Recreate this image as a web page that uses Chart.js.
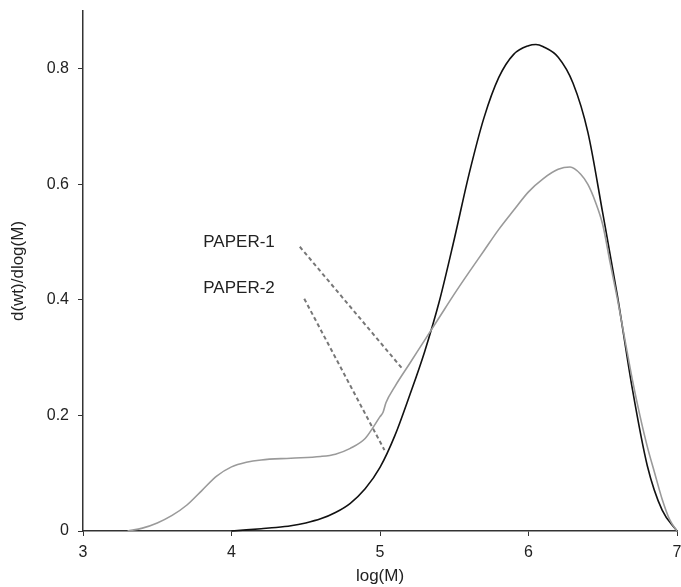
<!DOCTYPE html>
<html>
<head>
<meta charset="utf-8">
<script src="https://cdn.jsdelivr.net/npm/chart.js@4"></script>
<style>
  body { margin: 0; background: #fff; }
  #wrap { width: 681px; height: 587px; position: relative; }
</style>
</head>
<body>
<div id="wrap"><canvas id="mwdChart"></canvas></div>
<script>
// --- Data ---

// PAPER-1 (grey curve)
const paper1X = [3.3, 3.4, 3.5, 3.6, 3.7, 3.8, 3.9, 4.0, 4.1, 4.2, 4.4, 4.6, 4.7, 4.8, 4.9, 4.95, 5.0, 5.02, 5.04,
  5.1, 5.2, 5.3, 5.4, 5.5, 5.6, 5.7, 5.8, 5.9, 6.0, 6.1, 6.2, 6.28, 6.35, 6.4, 6.45, 6.5, 6.55, 6.6, 6.65,
  6.7, 6.75, 6.8, 6.85, 6.9, 6.95, 7.0];
const paper1Y = [0, 0.005, 0.014, 0.027, 0.045, 0.07, 0.095, 0.111, 0.119, 0.123, 0.126, 0.129, 0.133, 0.143, 0.16, 0.178, 0.198, 0.205, 0.222,
  0.25, 0.29, 0.33, 0.37, 0.41, 0.448, 0.485, 0.522, 0.555, 0.587, 0.61, 0.626, 0.63, 0.618, 0.6, 0.57, 0.53, 0.464, 0.4, 0.33,
  0.261, 0.2, 0.146, 0.1, 0.055, 0.02, 0];

// PAPER-2 (black curve)
const paper2X = [4.0, 4.1, 4.2, 4.3, 4.4, 4.5, 4.6, 4.7, 4.8, 4.9, 5.0, 5.1, 5.2, 5.3, 5.4, 5.5, 5.6, 5.7, 5.8,
  5.9, 6.0, 6.05, 6.1, 6.2, 6.3, 6.4, 6.5, 6.6, 6.7, 6.8, 6.9, 7.0];
const paper2Y = [0, 0.002, 0.004, 0.006, 0.009, 0.014, 0.021, 0.032, 0.048, 0.073, 0.11, 0.165, 0.235, 0.31, 0.398, 0.505, 0.618, 0.715, 0.785,
  0.825, 0.84, 0.842, 0.838, 0.82, 0.775, 0.69, 0.55, 0.405, 0.245, 0.113, 0.036, 0];

// Leader lines from the labels to the curves
const leader1X = [4.46, 5.15];
const leader1Y = [0.492, 0.281];
const leader2X = [4.49, 5.03];
const leader2Y = [0.402, 0.14];

const labelNames = ['PAPER-1', 'PAPER-2'];
const labelX = [3.81, 3.81];
const labelY = [0.5, 0.42];

const xTicks = [3, 4, 5, 6, 7];
const yTicks = [0, 0.2, 0.4, 0.6, 0.8];

// --- Helpers ---

const zip = (xs, ys) => xs.map((x, i) => ({ x, y: ys[i] }));
const FONT = "'Liberation Sans', Arial, sans-serif";

const curve = (label, xs, ys, color) => ({
  label,
  data: zip(xs, ys),
  borderColor: color,
  borderWidth: 1.6,
  pointRadius: 0,
  cubicInterpolationMode: 'monotone',
  clip: false,
});

const leader = (xs, ys) => ({
  data: zip(xs, ys),
  borderColor: '#777',
  borderWidth: 2,
  borderDash: [4, 3],
  pointRadius: 0,
});

// draws the PAPER-1 / PAPER-2 labels at data positions
const labelPlugin = {
  id: 'paperLabels',
  afterDatasetsDraw(chart) {
    const { ctx, scales } = chart;
    ctx.save();
    ctx.font = `17px ${FONT}`;
    ctx.fillStyle = '#222';
    ctx.textAlign = 'left';
    ctx.textBaseline = 'middle';
    labelNames.forEach((name, i) => {
      ctx.fillText(name, scales.x.getPixelForValue(labelX[i]), scales.y.getPixelForValue(labelY[i]));
    });
    ctx.restore();
  },
};

// --- Chart ---

new Chart(document.getElementById('mwdChart').getContext('2d'), {
  type: 'line',
  data: {
    datasets: [
      curve('PAPER-1', paper1X, paper1Y, '#9a9a9a'),
      curve('PAPER-2', paper2X, paper2Y, '#111'),
      leader(leader1X, leader1Y),
      leader(leader2X, leader2Y),
    ],
  },
  options: {
    responsive: true,
    maintainAspectRatio: false,
    animation: false,
    layout: { padding: { top: 11, right: 4, left: 0, bottom: 0 } },
    plugins: {
      legend: { display: false },
      tooltip: { enabled: false },
    },
    scales: {
      x: {
        type: 'linear',
        min: 3,
        max: 7,
        afterBuildTicks: scale => { scale.ticks = xTicks.map(value => ({ value })); },
        afterFit: scale => { scale.height = 56; scale.paddingLeft = 0; scale.paddingRight = 0; },
        border: { display: true, color: '#333', width: 1.5 },
        grid: { drawOnChartArea: false, drawTicks: true, tickLength: 5, color: '#333' },
        ticks: {
          padding: 7,
          color: '#222',
          font: { family: FONT, size: 16 },
          callback: v => String(v),
        },
        title: {
          display: true,
          text: 'log(M)',
          color: '#222',
          padding: { top: 0, bottom: 0 },
          font: { family: FONT, size: 17 },
        },
      },
      y: {
        min: 0,
        max: 0.9,
        afterBuildTicks: scale => { scale.ticks = yTicks.map(value => ({ value })); },
        afterFit: scale => { scale.width = 83; scale.paddingTop = 0; scale.paddingBottom = 0; },
        border: { display: true, color: '#333', width: 1.5 },
        grid: { drawOnChartArea: false, drawTicks: true, tickLength: 5, color: '#333' },
        ticks: {
          padding: 9,
          color: '#222',
          font: { family: FONT, size: 16 },
          callback: v => String(+v.toFixed(1)),
        },
        title: {
          display: true,
          text: 'd(wt)/dlog(M)',
          color: '#222',
          padding: { top: 8, bottom: 0 },
          font: { family: FONT, size: 17 },
        },
      },
    },
  },
  plugins: [labelPlugin],
});
</script>
</body>
</html>
